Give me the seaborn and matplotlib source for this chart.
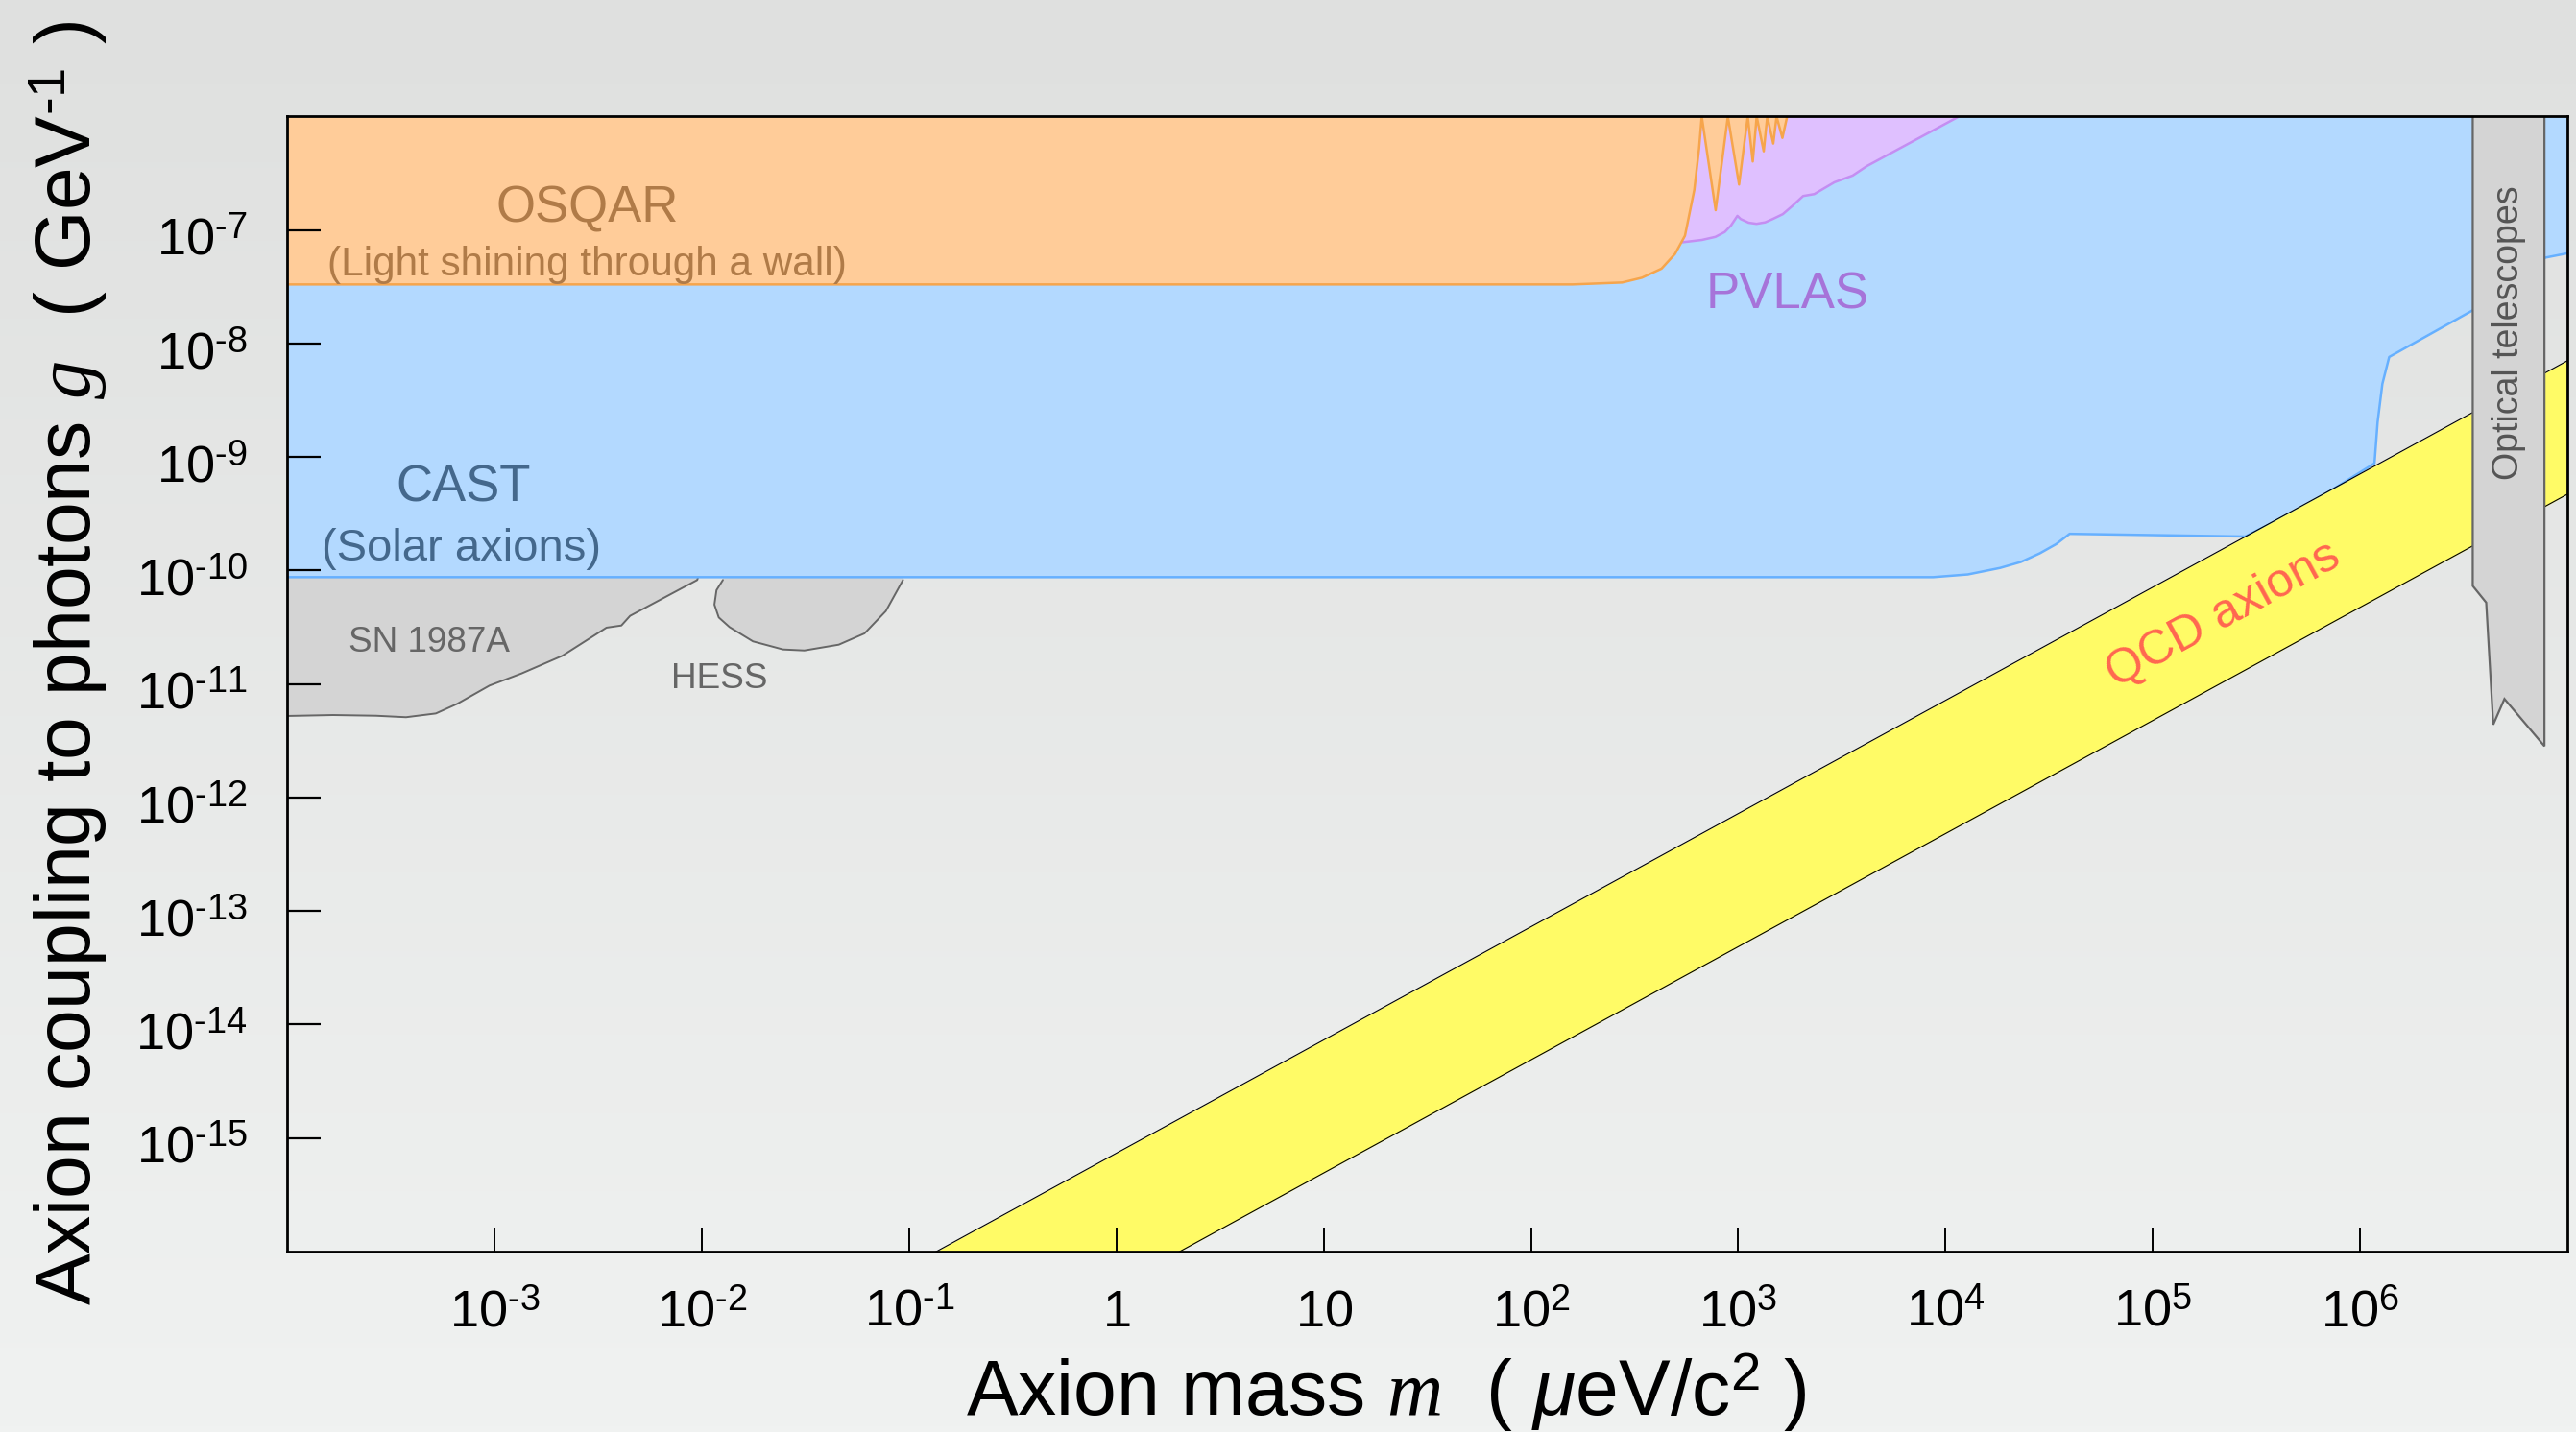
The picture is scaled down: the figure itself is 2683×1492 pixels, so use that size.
import numpy as np
import matplotlib
matplotlib.use("Agg")
import matplotlib.pyplot as plt
import seaborn as sns
from matplotlib.colors import LinearSegmentedColormap
from matplotlib.ticker import FixedLocator, NullLocator
from matplotlib.transforms import ScaledTranslation

# ---------------- data (log10 values) ----------------
xtick_exp = [-3, -2, -1, 0, 1, 2, 3, 4, 5, 6]
xtick_labels = ["$10^{\u20103}$", "$10^{\u20102}$", "$10^{\u20101}$", r"$1$", r"$10$",
                r"$10^{2}$", r"$10^{3}$", r"$10^{4}$", r"$10^{5}$", r"$10^{6}$"]
ytick_exp = [-15, -14, -13, -12, -11, -10, -9, -8, -7]
ytick_labels = ["$10^{\u201015}$", "$10^{\u201014}$", "$10^{\u201013}$", "$10^{\u201012}$",
                "$10^{\u201011}$", "$10^{\u201010}$", "$10^{\u20109}$", "$10^{\u20108}$", "$10^{\u20107}$"]

# CAST (solar axions) lower boundary
cast_logm = [-4.0, 3.941, 4.108, 4.263, 4.364, 4.455, 4.534, 4.599, 5.446, 5.75, 6.07, 6.085, 6.108,
             6.141, 6.544, 6.894, 7.0]
cast_logg = [-10.058, -10.058, -10.034, -9.977, -9.924, -9.848, -9.767, -9.676, -9.700, -9.42, -9.055,
             -8.692, -8.355, -8.118, -7.707, -7.243, -7.205]

# OSQAR (light shining through a wall) lower boundary
osqar_logm = [-4.0, 2.2, 2.343, 2.44, 2.535, 2.63, 2.695, 2.743, 2.788, 2.811, 2.824, 2.891, 2.950,
              3.004, 3.046, 3.070, 3.089, 3.123, 3.140, 3.169, 3.185, 3.213, 3.236]
osqar_logg = [-7.479, -7.479, -7.469, -7.462, -7.42, -7.34, -7.21, -7.05, -6.647, -6.283, -6.0, -6.825, -6.0,
              -6.599, -6.0, -6.396, -6.0, -6.306, -6.0, -6.238, -6.0, -6.188, -6.0]

# PVLAS lower boundary
pvlas_logm = [2.72, 2.825, 2.89, 2.935, 2.965, 2.996, 3.012, 3.05, 3.088, 3.13, 3.166, 3.215, 3.259,
              3.313, 3.367, 3.464, 3.552, 3.621, 4.043, 4.30]
pvlas_logg = [-7.11, -7.087, -7.06, -7.017, -6.96, -6.875, -6.903, -6.935, -6.945, -6.932, -6.903, -6.86,
              -6.791, -6.700, -6.683, -6.579, -6.520, -6.436, -6.021, -5.77]

# SN 1987A lower boundary
sn_logm = [-4.0, -3.78, -3.573, -3.428, -3.284, -3.181, -3.025, -2.870, -2.674, -2.461, -2.389, -2.347, -2.023, -2.0]
sn_logg = [-11.281, -11.273, -11.279, -11.292, -11.259, -11.174, -11.013, -10.906, -10.751, -10.503, -10.484,
           -10.399, -10.083, -9.95]

# HESS closed contour
hess_logm = [-1.899, -1.930, -1.940, -1.919, -1.867, -1.754, -1.609, -1.506, -1.340, -1.216, -1.113, -1.030]
hess_logg = [-10.083, -10.173, -10.300, -10.413, -10.498, -10.624, -10.695, -10.704, -10.653, -10.554,
             -10.357, -10.083]

# Optical telescopes
tel_logm = [6.544, 6.544, 6.609, 6.643, 6.697, 6.890, 6.890]
tel_logg = [-5.5, -10.135, -10.282, -11.357, -11.131, -11.547, -5.5]

# QCD axion band
qcd_logm = [-1.0, 7.0]
qcd_upper_logg = [-16.13, -8.152]
qcd_lower_logg = [-17.30, -9.328]

# ---------------- style ----------------
sns.set_style("white")
plt.rcParams["font.family"] = ["Liberation Sans", "DejaVu Sans"]
plt.rcParams["mathtext.fontset"] = "custom"
plt.rcParams["mathtext.rm"] = "Liberation Sans"
plt.rcParams["mathtext.it"] = "Liberation Serif:italic"
plt.rcParams["mathtext.bf"] = "Liberation Sans:bold"
plt.rcParams["mathtext.sf"] = "Liberation Sans:italic"

CAST_FILL, CAST_EDGE = "#b3d9ff", "#66b0ff"
OSQAR_FILL, OSQAR_EDGE = "#ffcc99", "#f6a54c"
PVLAS_FILL, PVLAS_EDGE = "#dfc0ff", "#c48ef2"
GRAY_FILL, GRAY_EDGE = "#d4d4d4", "#666666"
QCD_FILL = "#fffb66"

W, H, DPI = 2683, 1492, 200
fig = plt.figure(figsize=(W / DPI, H / DPI), dpi=DPI)
fig.patch.set_facecolor("#e8e9e8")

bg = fig.add_axes([0, 0, 1, 1], zorder=-10)
grad = np.linspace(0, 1, 256).reshape(-1, 1)
bg.imshow(grad, aspect="auto", extent=[0, 1, 0, 1], origin="upper",
          cmap=LinearSegmentedColormap.from_list("bg", ["#dfe0df", "#f0f2f1"]))
bg.axis("off")

ax = fig.add_axes([0.1116, 0.1260, 0.8850, 0.7926])
ax.set_facecolor("none")
ax.set_xscale("log")
ax.set_yscale("log")
ax.set_xlim(1e-4, 1e7)
ax.set_ylim(1e-16, 1e-6)

def P(a):
    return 10.0 ** np.asarray(a, dtype=float)

TOP = 1e-4

# CAST
cm, cg = P(cast_logm), P(cast_logg)
ax.fill_between(cm, cg, TOP, color=CAST_FILL, lw=0, zorder=1)
sns.lineplot(x=cm, y=cg, sort=False, estimator=None, color=CAST_EDGE, lw=0.9, ax=ax, zorder=1.5)

# SN 1987A
sm, sg = P(sn_logm), P(sn_logg)
ax.fill_between(sm, sg, P(-9.95), color=GRAY_FILL, lw=0, zorder=0.8)
sns.lineplot(x=sm, y=sg, sort=False, estimator=None, color=GRAY_EDGE, lw=0.7, ax=ax, zorder=0.9)

# HESS
hm, hg = P(hess_logm), P(hess_logg)
ax.fill(np.r_[hm[0], hm, hm[-1]], np.r_[P(-9.95), hg, P(-9.95)], color=GRAY_FILL, lw=0, zorder=0.8)
sns.lineplot(x=hm, y=hg, sort=False, estimator=None, color=GRAY_EDGE, lw=0.7, ax=ax, zorder=0.9)

# PVLAS
pm, pg = P(pvlas_logm), P(pvlas_logg)
ax.fill_between(pm, pg, TOP, color=PVLAS_FILL, lw=0, zorder=2)
sns.lineplot(x=pm, y=pg, sort=False, estimator=None, color=PVLAS_EDGE, lw=0.9, ax=ax, zorder=2.5)

# OSQAR
om, og = P(osqar_logm), P(osqar_logg)
ax.fill_between(om, og, TOP, color=OSQAR_FILL, lw=0, zorder=3)
sns.lineplot(x=om, y=og, sort=False, estimator=None, color=OSQAR_EDGE, lw=0.9, ax=ax, zorder=3.5)

# QCD band
qm = P(qcd_logm)
ax.fill_between(qm, P(qcd_lower_logg), P(qcd_upper_logg), color=QCD_FILL, lw=0, zorder=4)
sns.lineplot(x=qm, y=P(qcd_upper_logg), sort=False, estimator=None, color="black", lw=0.4, ax=ax, zorder=4.5)
sns.lineplot(x=qm, y=P(qcd_lower_logg), sort=False, estimator=None, color="black", lw=0.4, ax=ax, zorder=4.5)

# Optical telescopes
ax.fill(P(tel_logm), P(tel_logg), facecolor=GRAY_FILL, edgecolor=GRAY_EDGE, lw=0.8, zorder=5)

# labels inside
def T(lx, lg, s, **kw):
    ax.text(10 ** lx, 10 ** lg, s, ha="center", va="center", zorder=8, **kw)

T(-2.553, -6.814, "OSQAR", fontsize=19, color="#b07b48")
T(-2.553, -7.304, "(Light shining through a wall)", fontsize=15.2, color="#b07b48")
T(-3.150, -9.275, "CAST", fontsize=19, color="#44688c")
T(-3.159, -9.807, "(Solar axions)", fontsize=17, color="#44688c")
T(3.237, -7.575, "PVLAS", fontsize=19, color="#a674d9")
T(-3.317, -10.636, "SN 1987A", fontsize=13.3, color="#666666")
T(-1.918, -10.958, "HESS", fontsize=13.3, color="#666666")
T(5.340, -10.393, "QCD axions", fontsize=18, color="#ff6650", rotation=28.7, rotation_mode="anchor")
T(6.716, -7.907, "Optical telescopes", fontsize=13.5, color="#555555", rotation=90)

# axes styling
ax.xaxis.set_major_locator(FixedLocator(P(xtick_exp)))
ax.yaxis.set_major_locator(FixedLocator(P(ytick_exp)))
ax.xaxis.set_minor_locator(NullLocator())
ax.yaxis.set_minor_locator(NullLocator())
ax.set_xticklabels(xtick_labels)
ax.set_yticklabels(ytick_labels)
ax.tick_params(axis="x", direction="in", length=9, width=0.7, color="black", pad=28,
               labelsize=19.5, labelcolor="black", bottom=True, top=False)
ax.tick_params(axis="y", direction="in", length=12.6, width=0.8, color="black", pad=15,
               labelsize=19.5, labelcolor="black", left=True, right=False)
for lab in ax.get_xticklabels():
    lab.set_verticalalignment("baseline")
ydrop = ScaledTranslation(0, -26.0 / DPI, fig.dpi_scale_trans)
for lab in ax.get_yticklabels():
    lab.set_verticalalignment("baseline")
    lab.set_transform(lab.get_transform() + ydrop)
for s in ax.spines.values():
    s.set_visible(True)
    s.set_color("black")
    s.set_linewidth(1.0)
    s.set_zorder(10)
ax.xaxis.set_zorder(10)
ax.yaxis.set_zorder(10)
ax.set_xlabel("")
ax.set_ylabel("")
ax.grid(False)

fig.text(0.0265, 0.5369, "Axion coupling to photons $g$  ( GeV$^{\u20101}$ )", rotation=90,
         ha="center", va="center", fontsize=29, color="black")
fig.text(0.538, 0.0114, r"Axion mass $m$  ( $\mathsf{\mu}$eV/c$^{2}$ )",
         ha="center", va="baseline", fontsize=29, color="black")

fig.savefig("out.png", dpi=DPI)
